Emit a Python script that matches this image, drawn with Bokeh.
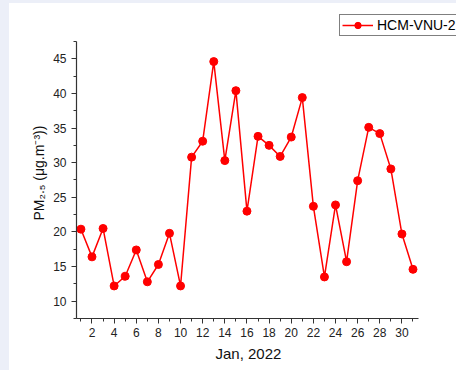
from bokeh.plotting import figure
from bokeh.models import FixedTicker, Legend, LegendItem, Range1d, Title, InlineStyleSheet
from bokeh.embed import file_html
from bokeh.resources import INLINE

days = list(range(1, 32))
pm25 = [20.4, 16.4, 20.5, 12.2, 13.6, 17.4, 12.8, 15.3, 19.8, 12.2,
        30.8, 33.1, 44.6, 30.3, 40.4, 23.0, 33.8, 32.5, 30.9, 33.7,
        39.4, 23.7, 13.5, 23.9, 15.7, 27.4, 35.1, 34.2, 29.1, 19.7, 14.6]
x_ticks = list(range(2, 31, 2))
x_minor = list(range(1, 32))
y_ticks = [10, 15, 20, 25, 30, 35, 40, 45]
y_minor = [7.5 + 2.5 * i for i in range(17)]
x_axis_span = (0.6, 31.5)
y_axis_span = (7.5, 47.5)
series_name = "HCM-VNU-2"
x_title = "Jan, 2022"
y_title = "PM\u2082.\u2085 (\u03bcg.m\u207b\u00b3))"

FONT = "Liberation Sans"

# frame extends to the right/top edges so the legend can sit above the axes
p = figure(width=456, height=370, output_backend="svg", toolbar_location=None,
           x_range=Range1d(0.6, 34.93), y_range=Range1d(7.5, 53.42),
           min_border_left=76, min_border_right=0, min_border_top=0,
           min_border_bottom=52, outline_line_color=None,
           border_fill_alpha=0, background_fill_alpha=0)
p.grid.visible = False
p.stylesheets = [InlineStyleSheet(css=(
    ":host { background: linear-gradient(#eceff8 3px, transparent 3px), "
    "linear-gradient(to right, #eceff8 9px, #ffffff 9px); }"))]

ln = p.line(days, pm25, line_color="#ff0000", line_width=1.5)
sc = p.scatter(days, pm25, size=8, fill_color="#ff0000", line_color="#ff0000")

for ax in (p.xaxis[0], p.yaxis[0]):
    ax.axis_line_color = "#333333"
    ax.axis_line_width = 1.2
    ax.major_tick_line_color = "#333333"
    ax.minor_tick_line_color = "#333333"
    ax.major_tick_in = 0
    ax.minor_tick_in = 0
    ax.major_tick_out = 5
    ax.minor_tick_out = 3
    ax.major_label_text_font = FONT
    ax.major_label_text_font_size = "12px"
    ax.major_label_text_color = "#222222"

p.xaxis.bounds = x_axis_span
p.yaxis.bounds = y_axis_span
p.xaxis.ticker = FixedTicker(ticks=x_ticks, minor_ticks=x_minor)
p.yaxis.ticker = FixedTicker(ticks=y_ticks, minor_ticks=y_minor)
p.xaxis.major_label_standoff = 4
p.yaxis.major_label_standoff = 5

# axis titles as panel titles so they centre on the drawn axes
xt = Title(text=x_title, align="left", offset=139, text_font=FONT,
           text_font_size="15px", text_font_style="normal",
           text_color="#111111", standoff=6)
p.add_layout(xt, "below")
yt = Title(text=y_title, align="left", offset=98, text_font=FONT,
           text_font_size="14px", text_font_style="normal",
           text_color="#111111", standoff=8)
p.add_layout(yt, "left")

legend = Legend(items=[LegendItem(label=series_name, renderers=[ln, sc])],
                location=(263, 282), padding=2, margin=0, spacing=0,
                label_text_font=FONT, label_text_font_size="14px",
                label_text_color="#000000", label_height=16, glyph_height=16,
                glyph_width=31, label_standoff=4, label_width=110,
                border_line_color="#000000", border_line_width=1,
                background_fill_color="white", background_fill_alpha=1)
p.add_layout(legend, "center")

open("out.html", "w").write(file_html(p, INLINE))
